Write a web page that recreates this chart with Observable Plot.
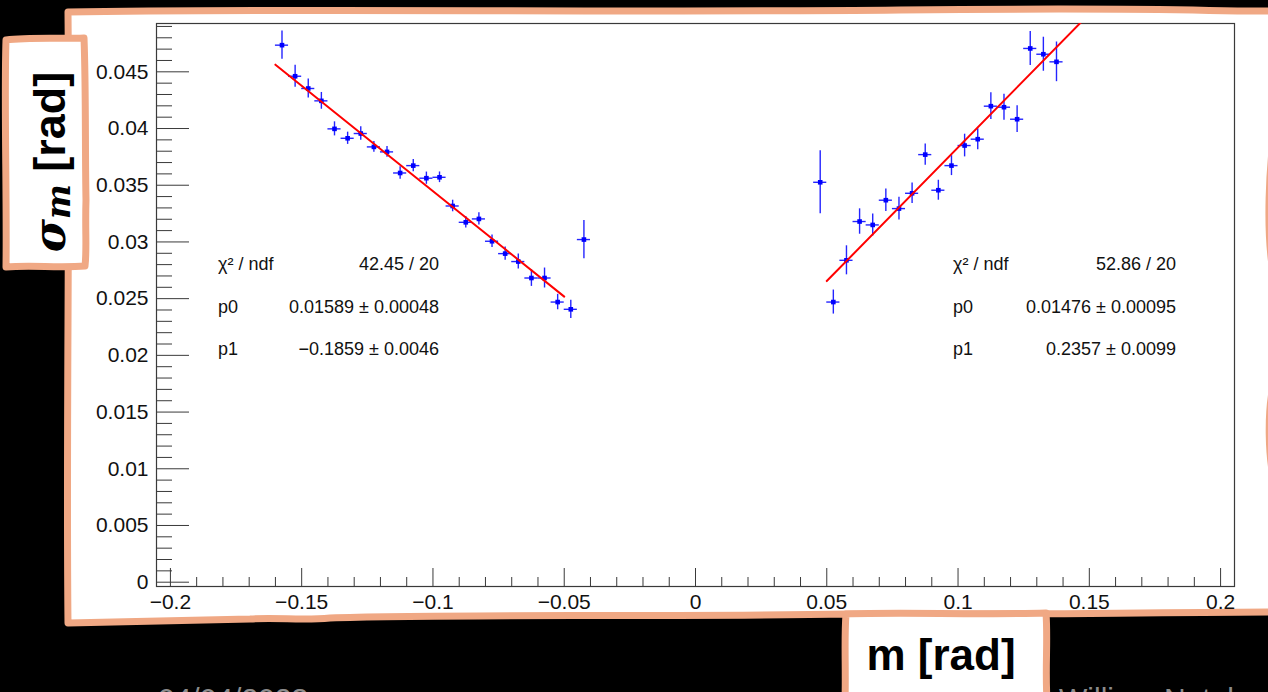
<!DOCTYPE html>
<html>
<head>
<meta charset="utf-8">
<script src="https://cdn.jsdelivr.net/npm/d3@7"></script>
<script src="https://cdn.jsdelivr.net/npm/@observablehq/plot@0.6"></script>
<style>
  html, body { margin: 0; padding: 0; background: #000; width: 1268px; height: 692px; overflow: hidden; }
  #stage { position: relative; width: 1268px; height: 692px; }
  #stage > svg, #chart { position: absolute; left: 0; top: 0; }
  #chart svg { display: block; }
</style>
</head>
<body>
<div id="stage">
  <svg id="back" width="1268" height="692">
    <path d="M68,12 C300,8 600,13 900,10 S1200,12 1278,11 L1276,120 C1268,170 1267,230 1272,265 C1278,320 1278,370 1272,392 C1268,415 1268,455 1274,480 L1278,612 C1100,613 950,615 850,614 C640,617 430,614 330,618 C300,621 280,617 250,619 C180,621 120,622 68,623 C66,430 70,220 68,12 Z"
          fill="#fff" stroke="#f0a884" stroke-width="7" stroke-linejoin="round"/>
  </svg>
  <div id="chart"></div>
  <svg id="front" width="1268" height="692"></svg>
</div>
<script>
// ---------- data ----------
const leftM = [-0.1575, -0.1525, -0.1475, -0.1425, -0.1375, -0.1325, -0.1275, -0.1225, -0.1175, -0.1125, -0.1075, -0.1025,
               -0.0975, -0.0925, -0.0875, -0.0825, -0.0775, -0.0725, -0.0675, -0.0625, -0.0575, -0.0525, -0.0475, -0.0425];
const leftSigma = [0.04735, 0.04461, 0.04353, 0.04244, 0.03997, 0.03914, 0.03956, 0.03838, 0.03794, 0.03608, 0.03673, 0.03562,
                   0.03570, 0.03317, 0.03173, 0.03203, 0.03006, 0.02897, 0.02827, 0.02682, 0.02682, 0.02470, 0.02406, 0.03021];
const leftErr = [0.00125, 0.00097, 0.00084, 0.00074, 0.00062, 0.00054, 0.00059, 0.00047, 0.00047, 0.00056, 0.00054, 0.00054,
                 0.00047, 0.00051, 0.00051, 0.00054, 0.00056, 0.00059, 0.00066, 0.00074, 0.00088, 0.00068, 0.00080, 0.00169];

const rightM = [0.0475, 0.0525, 0.0575, 0.0625, 0.0675, 0.0725, 0.0775, 0.0825, 0.0875, 0.0925, 0.0975, 0.1025,
                0.1075, 0.1125, 0.1175, 0.1225, 0.1275, 0.1325, 0.1375];
const rightSigma = [0.03526, 0.02470, 0.02838, 0.03180, 0.03150, 0.03368, 0.03294, 0.03429, 0.03770, 0.03456, 0.03673, 0.03850,
                    0.03906, 0.04197, 0.04188, 0.04082, 0.04706, 0.04655, 0.04588];
const rightErr = [0.00278, 0.00106, 0.00128, 0.00112, 0.00097, 0.00099, 0.00100, 0.00091, 0.00093, 0.00088, 0.00088, 0.00100,
                  0.00093, 0.00118, 0.00115, 0.00118, 0.00150, 0.00150, 0.00175];
const binHalfWidth = 0.0025;

// fitted straight lines (end points of the drawn fit range)
const leftFitM = [-0.16, -0.05];
const leftFitSigma = [0.04563, 0.02518];
const rightFitM = [0.05, 0.16];
const rightFitSigma = [0.02655, 0.05247];

// fit statistics boxes
const statNames = ["χ² / ndf", "p0", "p1"];
const leftStats = ["42.45 / 20", "0.01589 ± 0.00048", "−0.1859 ± 0.0046"];
const rightStats = ["52.86 / 20", "0.01476 ± 0.00095", "0.2357 ± 0.0099"];

// axes
const xTicks = [-0.2, -0.15, -0.1, -0.05, 0, 0.05, 0.1, 0.15, 0.2];
const xTickLabels = ["−0.2", "−0.15", "−0.1", "−0.05", "0", "0.05", "0.1", "0.15", "0.2"];
const yTicks = [0, 0.005, 0.01, 0.015, 0.02, 0.025, 0.03, 0.035, 0.04, 0.045];
const yTickLabels = ["0", "0.005", "0.01", "0.015", "0.02", "0.025", "0.03", "0.035", "0.04", "0.045"];
const xMinorTicks = d3.range(-20, 21).filter(k => k % 5 !== 0).map(k => k / 100);
const yMinorTicks = d3.range(1, 50).filter(k => k % 5 !== 0).map(k => k / 1000);
const xTitle = "m [rad]";
const dateText = "04/04/2023";
const authorText = "William Natal";

// ---------- build tables ----------
const leftData = leftM.map((m, i) => ({m, s: leftSigma[i], e: leftErr[i]}));
const rightData = rightM.map((m, i) => ({m, s: rightSigma[i], e: rightErr[i]}));
const leftFit = leftFitM.map((m, i) => ({m, s: leftFitSigma[i]}));
const rightFit = rightFitM.map((m, i) => ({m, s: rightFitSigma[i]}));
const allData = leftData.concat(rightData);

const W = 1268, H = 692, mL = 156, mR = 34, mT = 23, mB = 106;
const plotW = W - mL - mR, plotH = H - mT - mB;
const font = '"Liberation Sans", Arial, Helvetica, sans-serif';
const axisColor = "#3a3a3a";
const blue = "#0000ff";

const chart = Plot.plot({
  width: W, height: H,
  marginLeft: mL, marginRight: mR, marginTop: mT, marginBottom: mB,
  style: {background: "transparent", fontFamily: font, color: "#111", overflow: "visible"},
  x: {domain: [-0.2053, 0.2053]},
  y: {domain: [-0.00038, 0.04926]},
  marks: [
    Plot.ruleY(yMinorTicks, {y: d => d, insetRight: plotW - 16, stroke: axisColor, strokeWidth: 1}),
    Plot.ruleY(yTicks, {y: d => d, insetRight: plotW - 33, stroke: axisColor, strokeWidth: 1}),
    Plot.ruleX(xMinorTicks, {x: d => d, insetTop: plotH - 9, stroke: axisColor, strokeWidth: 1}),
    Plot.ruleX(xTicks, {x: d => d, insetTop: plotH - 18, stroke: axisColor, strokeWidth: 1}),
    Plot.axisY(yTicks, {tickSize: 0, tickPadding: 8, fontSize: 21, label: null,
      tickFormat: d => yTickLabels[yTicks.indexOf(d)]}),
    Plot.axisX(xTicks, {tickSize: 0, tickPadding: 8, fontSize: 21, label: null,
      tickFormat: d => xTickLabels[xTicks.indexOf(d)]}),
    Plot.frame({stroke: axisColor, strokeWidth: 1.2}),
    // error bars
    Plot.ruleX(allData, {x: "m", y1: d => d.s - d.e, y2: d => d.s + d.e, stroke: "#2424ff", strokeWidth: 1.4, clip: true}),
    Plot.ruleY(allData, {y: "s", x1: d => d.m - binHalfWidth, x2: d => d.m + binHalfWidth, stroke: "#2424ff", strokeWidth: 1.4, clip: true}),
    // markers
    Plot.dot(allData, {x: "m", y: "s", symbol: "square", r: 2.6, fill: blue, stroke: null}),
    // fits
    Plot.line(leftFit, {x: "m", y: "s", stroke: "#ff0000", strokeWidth: 2, clip: true}),
    Plot.line(rightFit, {x: "m", y: "s", stroke: "#ff0000", strokeWidth: 2, clip: true})
  ]
});
document.getElementById("chart").appendChild(chart);

// ---------- annotations: stat boxes, axis title boxes, footer ----------
const front = d3.select("#front");
function statBox(labelX, valueRight, values) {
  const base = [270, 312.5, 355];
  statNames.forEach((name, i) => {
    front.append("text").attr("x", labelX).attr("y", base[i])
      .attr("font-family", font).attr("font-size", 18).attr("fill", "#111").text(name);
    front.append("text").attr("x", valueRight).attr("y", base[i]).attr("text-anchor", "end")
      .attr("font-family", font).attr("font-size", 18).attr("fill", "#111").text(values[i]);
  });
}
statBox(218, 439, leftStats);
statBox(953, 1176, rightStats);

// y title box
front.append("path")
  .attr("d", "M6,40 C30,37 60,39 84,38 C86,90 85,150 86,200 C85,230 87,250 85,266 C60,268 30,265 6,267 C7,200 4,100 6,40 Z")
  .attr("fill", "#fff").attr("stroke", "#f0a884").attr("stroke-width", 7).attr("stroke-linejoin", "round");
const yt = front.append("text")
  .attr("transform", "translate(65,162) rotate(-90)")
  .attr("text-anchor", "middle").attr("font-weight", "bold").attr("font-size", 45)
  .attr("font-family", font).attr("fill", "#000");
yt.append("tspan").attr("font-family", '"DejaVu Serif", serif').attr("font-style", "italic").text("σ");
yt.append("tspan").attr("font-family", '"DejaVu Serif", serif').attr("font-style", "italic")
  .attr("font-size", 33).attr("dy", 5).text("m");
yt.append("tspan").attr("dy", -5).text(" [rad]");

// x title box
front.append("path")
  .attr("d", "M846,614 C900,612 980,615 1046,613 C1048,640 1045,670 1047,700 L845,700 C846,670 844,640 846,614 Z")
  .attr("fill", "#fff").attr("stroke", "#f0a884").attr("stroke-width", 7).attr("stroke-linejoin", "round");
front.append("text").attr("x", 941).attr("y", 670).attr("text-anchor", "middle")
  .attr("font-family", font).attr("font-weight", "bold").attr("font-size", 44).attr("fill", "#000").text(xTitle);

// footer (cut off at the bottom edge, as in the slide)
front.append("text").attr("x", 158).attr("y", 709).attr("font-family", font).attr("font-size", 30)
  .attr("fill", "#8c8c8c").text(dateText);
front.append("text").attr("x", 1059).attr("y", 709).attr("font-family", font).attr("font-size", 30)
  .attr("fill", "#8c8c8c").text(authorText);
</script>
</body>
</html>
